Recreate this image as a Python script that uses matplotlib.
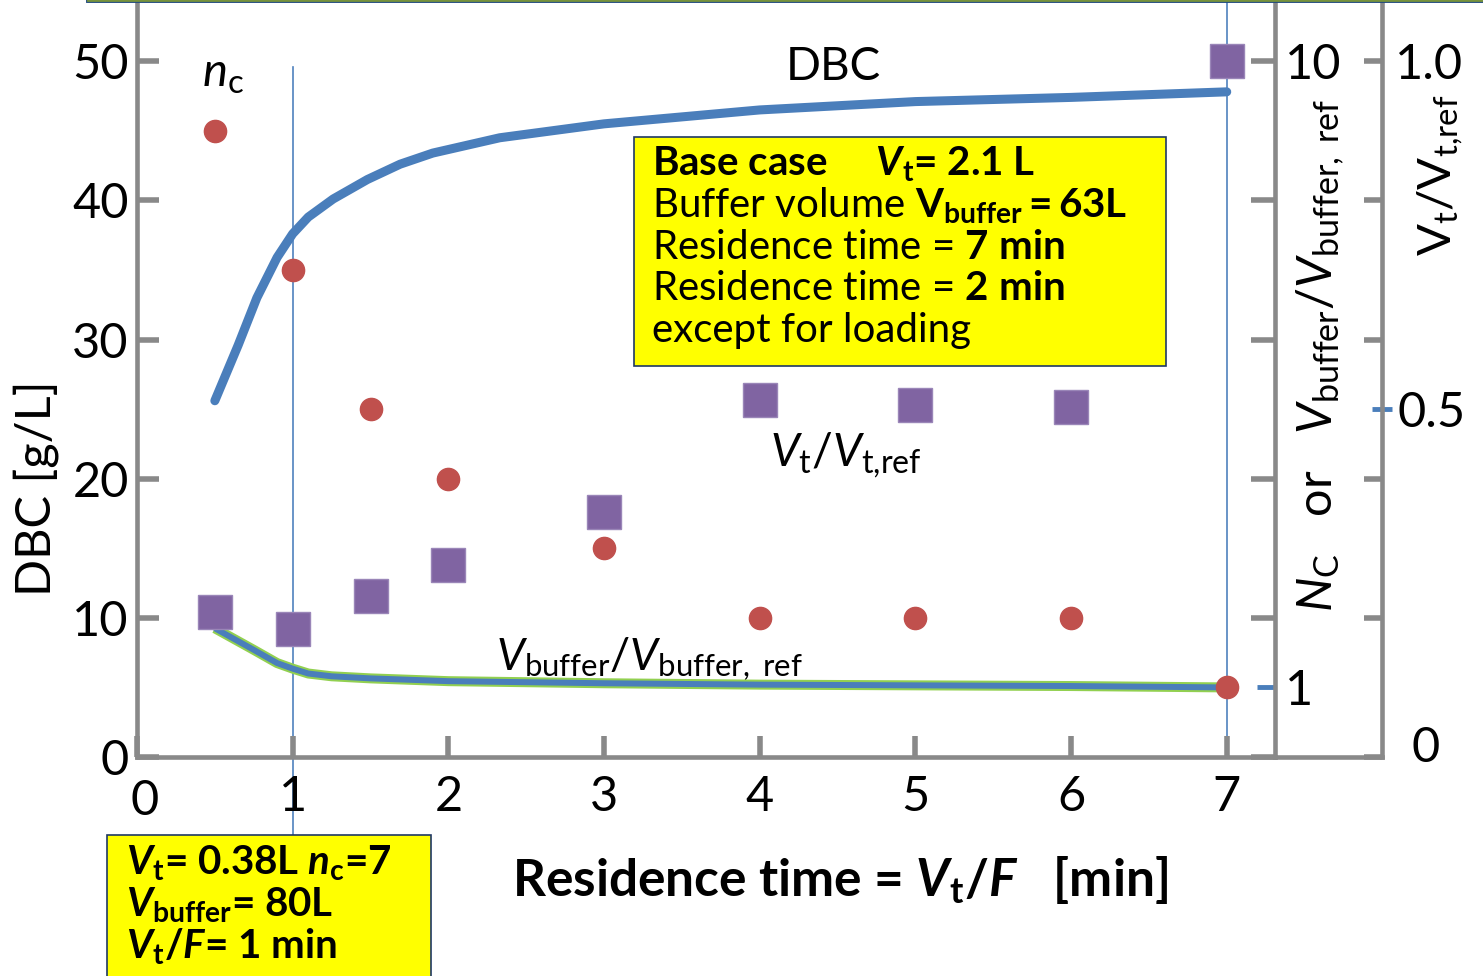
import matplotlib
matplotlib.use('Agg')
import matplotlib.pyplot as plt
from matplotlib.patches import Rectangle
from matplotlib.lines import Line2D

plt.rcParams['font.family'] = ['Lato', 'DejaVu Sans']
plt.rcParams['mathtext.fontset'] = 'custom'
plt.rcParams['mathtext.rm'] = 'Lato'
plt.rcParams['mathtext.it'] = 'Lato:italic'
plt.rcParams['mathtext.bf'] = 'Lato:bold'
plt.rcParams['mathtext.bfit'] = 'Lato:bold:italic'

# data
tau_dbc = [0.5, 0.65, 0.77, 0.9, 1.0, 1.1, 1.26, 1.48, 1.69, 1.9, 2.33, 3, 4, 5, 6, 7]
dbc = [25.6, 29.6, 33.0, 35.9, 37.6, 38.8, 40.1, 41.5, 42.6, 43.4, 44.5, 45.5, 46.5, 47.1, 47.4, 47.8]

tau_buf = [0.5, 0.75, 0.9, 1, 1.1, 1.25, 1.5, 2, 3, 4, 5, 6, 7]
vbuf_ratio = [1.85, 1.54, 1.35, 1.27, 1.20, 1.16, 1.13, 1.09, 1.06, 1.04, 1.03, 1.02, 1.0]

tau_pts = [0.5, 1, 1.5, 2, 3, 4, 5, 6, 7]
n_c = [9, 7, 5, 4, 3, 2, 2, 2, 1]
vt_ratio = [0.208, 0.184, 0.231, 0.276, 0.352, 0.513, 0.506, 0.503, 1.0]

x_ticks = [0, 1, 2, 3, 4, 5, 6, 7]
x_labels = ['', '1', '2', '3', '4', '5', '6', '7']
dbc_ticks = [0, 10, 20, 30, 40, 50]
nc_ticks = [0, 2, 4, 6, 8, 10]
nc_labels = ['', '', '', '', '', '10']
vt_ticks = [0, 0.2, 0.4, 0.6, 0.8, 1.0]
vt_labels = ['', '', '', '', '', '1.0']

W, H = 1483, 976
gray = '#898989'
blue = '#4A7EBB'
thin_blue = '#4F81BD'
red = '#C0504D'
purple = '#8064A2'
green = '#92D050'

fig = plt.figure(figsize=(W / 100, H / 100), dpi=100)
ax = fig.add_axes([137 / W, 1 - 757 / H, (1275 - 137) / W, 757 / H])
ax_n = ax.twinx()
ax_v = ax.twinx()
ax_v.spines['right'].set_position(('axes', (1382 - 137) / (1275 - 137)))

ax.set_xlim(0, 7.31)
ax.set_ylim(0, 54.4)
ax_n.set_ylim(0, 10.88)
ax_v.set_ylim(0, 1.088)

for a in (ax, ax_n, ax_v):
    a.spines['top'].set_visible(False)
    a.patch.set_visible(False)
for a in (ax_n, ax_v):
    a.spines['left'].set_visible(False)
    a.spines['bottom'].set_visible(False)
    a.spines['right'].set_color(gray)
    a.spines['right'].set_linewidth(3.3)
ax.spines['right'].set_visible(False)
ax.spines['left'].set_color(gray)
ax.spines['bottom'].set_color(gray)
ax.spines['left'].set_linewidth(3.3)
ax.spines['bottom'].set_linewidth(3.3)

# vertical guide lines
ax.plot([1, 1], [49.6, -5.6], color=thin_blue, lw=1.2, clip_on=False, zorder=1)
ax.plot([7, 7], [54.4, 0], color=thin_blue, lw=1.2, clip_on=False, zorder=1)

# DBC curve
ax.plot(tau_dbc, dbc, color=blue, lw=6.5, solid_capstyle='round', solid_joinstyle='round', zorder=3)

# buffer volume ratio curve
ax_n.plot(tau_buf, vbuf_ratio, color=green, lw=7.2, solid_capstyle='butt', solid_joinstyle='round', zorder=2)
ax_n.plot(tau_buf, vbuf_ratio, color=blue, lw=4.3, solid_capstyle='butt', solid_joinstyle='round', zorder=3)
ax_n.plot(tau_pts, n_c, 'o', color=red, ms=16, mec=red, zorder=4)

ax_v.plot(tau_pts, vt_ratio, 's', color=purple, ms=24.5, mec='#9A86B8', mew=1, zorder=4)

# ticks
ax.set_xticks(x_ticks, x_labels)
ax.set_yticks(dbc_ticks)
ax.tick_params(axis='x', direction='in', length=15, width=4, color=gray, labelsize=35, pad=13)
ax.tick_params(axis='y', direction='in', length=16, width=4, color=gray, labelsize=35, pad=6)
ax.text(0.05, -1.55, '0', fontsize=35, ha='center', va='top')

ax_n.set_yticks(nc_ticks, nc_labels)
ax_n.set_yticks([1], ['1'], minor=True)
ax_n.tick_params(axis='y', which='major', direction='in', length=17, width=4, color=gray, labelsize=35, pad=7)
ax_n.tick_params(axis='y', which='minor', direction='in', length=13, width=3.5, color=blue, labelsize=35, pad=7)

ax_v.set_yticks(vt_ticks, vt_labels)
ax_v.set_yticks([0.5], ['0.5'], minor=True)
ax_v.tick_params(axis='y', which='major', direction='in', length=13, width=4, color=gray, labelsize=35, pad=9)
ax_v.tick_params(axis='y', which='minor', direction='inout', length=14, width=3.5, color=blue, labelsize=35, pad=4)

# bottom line extension under the right axes
ax.plot([1.0, (1382 - 137) / (1275 - 137)], [0, 0], transform=ax.transAxes,
        color=gray, lw=3.3, clip_on=False, solid_capstyle='projecting')

# top green border
fig.add_artist(Line2D([88 / W, 1], [0.9995, 0.9995], color='#1F497D', lw=3.5))
fig.add_artist(Line2D([88 / W, 1], [0.9995, 0.9995], color='#77933C', lw=2))

# annotations
ax.text(0.55, 49.0, r'$n_\mathrm{c}$', fontsize=34, ha='center', va='center')
ax.text(4.47, 49.6, 'DBC', fontsize=33, ha='center', va='center')
ax.text(4.55, 21.7, r'$V_\mathrm{t}/V_\mathrm{t{,}ref}$', fontsize=33, ha='center', va='center')
ax.text(3.29, 7.0, r'$V_\mathrm{buffer}/V_\mathrm{buffer,\ ref}$', fontsize=32, ha='center', va='center')

fig.text(0.5 + (840 - W / 2) / W, 1 - 880 / H,
         r'Residence time = $\mathbfit{V}_\mathbf{t}\mathbf{/}\mathbfit{F}$   [min]',
         fontsize=37, fontweight='bold', ha='center', va='center')
fig.text(36 / W, 1 - 488 / H, 'DBC [g/L]', fontsize=35, rotation=90, ha='center', va='center')
fig.text(1321 / W, 1 - 355 / H,
         r'$N_\mathrm{C}$   or   $V_\mathrm{buffer}/V_\mathrm{buffer,\ ref}$',
         fontsize=35, rotation=90, ha='center', va='center')
fig.text(1440 / W, 1 - 175 / H, r'$\mathrm{V}_\mathrm{t}/\mathrm{V}_\mathrm{t{,}ref}$',
         fontsize=34, rotation=90, ha='center', va='center')
fig.text(1426 / W, 1 - 748 / H, '0', fontsize=35, ha='center', va='center')

# yellow info boxes
fig.add_artist(Rectangle((634 / W, 1 - 366 / H), 532 / W, 229 / H, transform=fig.transFigure,
                         facecolor='#FFFF00', edgecolor='#1F3864', lw=1.2))
box1 = [
    (r'Base case     $\mathbfit{V}_\mathbf{t}$= 2.1 L', 'bold'),
    (r'Buffer volume $\mathbf{V}_\mathbf{buffer}\mathbf{= 63L}$', 'normal'),
    (r'Residence time = $\mathbf{7\ min}$', 'normal'),
    (r'Residence time = $\mathbf{2\ min}$', 'normal'),
    ('except for loading', 'normal'),
]
for i, (s, w) in enumerate(box1):
    fig.text(652 / W, 1 - (176 + 41.5 * i) / H, s, fontsize=29, fontweight=w,
             ha='left', va='baseline')

fig.add_artist(Rectangle((107 / W, -0.02), 324 / W, (976 - 835) / H + 0.02, transform=fig.transFigure,
                         facecolor='#FFFF00', edgecolor='#1F3864', lw=1.2))
box2 = [
    r'$\mathbfit{V}_\mathbf{t}$= 0.38L $\mathbfit{n}_\mathbf{c}$=7',
    r'$\mathbfit{V}_\mathbf{buffer}$= 80L',
    r'$\mathbfit{V}_\mathbf{t}\mathbf{/}\mathbfit{F}$= 1 min',
]
for i, s in enumerate(box2):
    fig.text(126 / W, 1 - (875 + 42 * i) / H, s, fontsize=29, fontweight='bold',
             ha='left', va='baseline')

fig.savefig('out.png', dpi=100)
